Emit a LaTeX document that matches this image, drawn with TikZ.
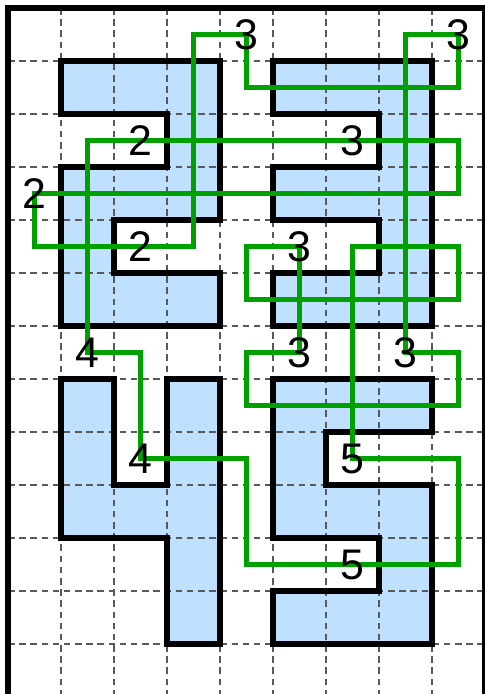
\documentclass[tikz,border=0pt]{standalone}
\usepackage{fontspec}
\setmainfont{Liberation Sans}

\definecolor{blockblue}{RGB}{192,224,255}
\definecolor{loopgreen}{RGB}{0,160,0}

\pgfdeclarelayer{board}
\pgfdeclarelayer{track}
\pgfsetlayers{board,track,main}

\tikzset{
    numcell/.style={inner sep=0pt, font=\fontsize{23}{27}\selectfont},
    blockfill/.style={fill=blockblue},
    blockline/.style={draw=black, line width=3pt},
    gridline/.style={draw=black!65, line width=0.7pt, dash pattern=on 3.5pt off 2.5pt},
    frame/.style={draw=black, line width=2.8pt},
    loopline/.style={draw=loopgreen, line width=2.8pt}
}

\newcommand\blockTwo{(1,-1) -- (4,-1) -- (4,-4) -- (2,-4) -- (2,-5) -- (4,-5) -- (4,-6) -- (1,-6) -- (1,-3) -- (3,-3) -- (3,-2) -- (1,-2) -- cycle}
\newcommand\blockThree{(5,-1) -- (8,-1) -- (8,-6) -- (5,-6) -- (5,-5) -- (7,-5) -- (7,-4) -- (5,-4) -- (5,-3) -- (7,-3) -- (7,-2) -- (5,-2) -- cycle}
\newcommand\blockFour{(1,-7) -- (2,-7) -- (2,-9) -- (3,-9) -- (3,-7) -- (4,-7) -- (4,-12) -- (3,-12) -- (3,-10) -- (1,-10) -- cycle}
\newcommand\blockFive{(5,-7) -- (8,-7) -- (8,-8) -- (6,-8) -- (6,-9) -- (8,-9) -- (8,-12) -- (5,-12) -- (5,-11) -- (7,-11) -- (7,-10) -- (5,-10) -- cycle}

\begin{document}
\begin{tikzpicture}
    \useasboundingbox (-0.151,0.151) rectangle (8.981,-12.943);
    \begin{pgfonlayer}{board}
        \fill[blockfill] \blockTwo \blockThree \blockFour \blockFive;
        \foreach \x in {1,...,8} \draw[gridline] (\x,0) -- (\x,-13);
        \foreach \y in {1,...,12} \draw[gridline] (0,-\y) -- (9,-\y);
        \draw[blockline] \blockTwo \blockThree \blockFour \blockFive;
        \draw[frame] (0,0) rectangle (9,-13);
    \end{pgfonlayer}

    \path node[numcell] (t3a) at (4.5,-0.5) {3}
        node[numcell] (t3b) at (8.5,-0.5) {3}
        node[numcell] (t2a) at (2.5,-2.5) {2}
        node[numcell] (t3c) at (6.5,-2.5) {3}
        node[numcell] (t2b) at (0.5,-3.5) {2}
        node[numcell] (t2c) at (2.5,-4.5) {2}
        node[numcell] (t3d) at (5.5,-4.5) {3}
        node[numcell] (t4a) at (1.5,-6.5) {4}
        node[numcell] (t3e) at (5.5,-6.5) {3}
        node[numcell] (t3f) at (7.5,-6.5) {3}
        node[numcell] (t4b) at (2.5,-8.5) {4}
        node[numcell] (t5a) at (6.5,-8.5) {5}
        node[numcell] (t5b) at (6.5,-10.5) {5};
    \path coordinate (c4r1) at (4.5,-1.5)
        coordinate (c8r2) at (8.5,-2.5)
        coordinate (c3r4) at (3.5,-4.5)
        coordinate (c8r4) at (8.5,-4.5)
        coordinate (c4r5) at (4.5,-5.5)
        coordinate (c8r6) at (8.5,-6.5)
        coordinate (c4r7) at (4.5,-7.5)
        coordinate (c8r8) at (8.5,-8.5)
        coordinate (c4r10) at (4.5,-10.5);

    \begin{pgfonlayer}{track}
        \draw[loopline] (t3a.center) -| (c3r4) -- (t2c.center) -| (t2b.center)
            -| (c8r2) -- (t3c.center) -- (t2a.center) -| (t4a.center)
            -| (t4b.center) -| (c4r10) -- (t5b.center) -| (c8r8) -- (t5a.center)
            |- (c8r4) |- (c4r5) |- (t3d.center) -- (t3e.center) -| (c4r7)
            -| (c8r6) -- (t3f.center) |- (t3b.center) |- (c4r1) -- cycle;
    \end{pgfonlayer}
\end{tikzpicture}
\end{document}
